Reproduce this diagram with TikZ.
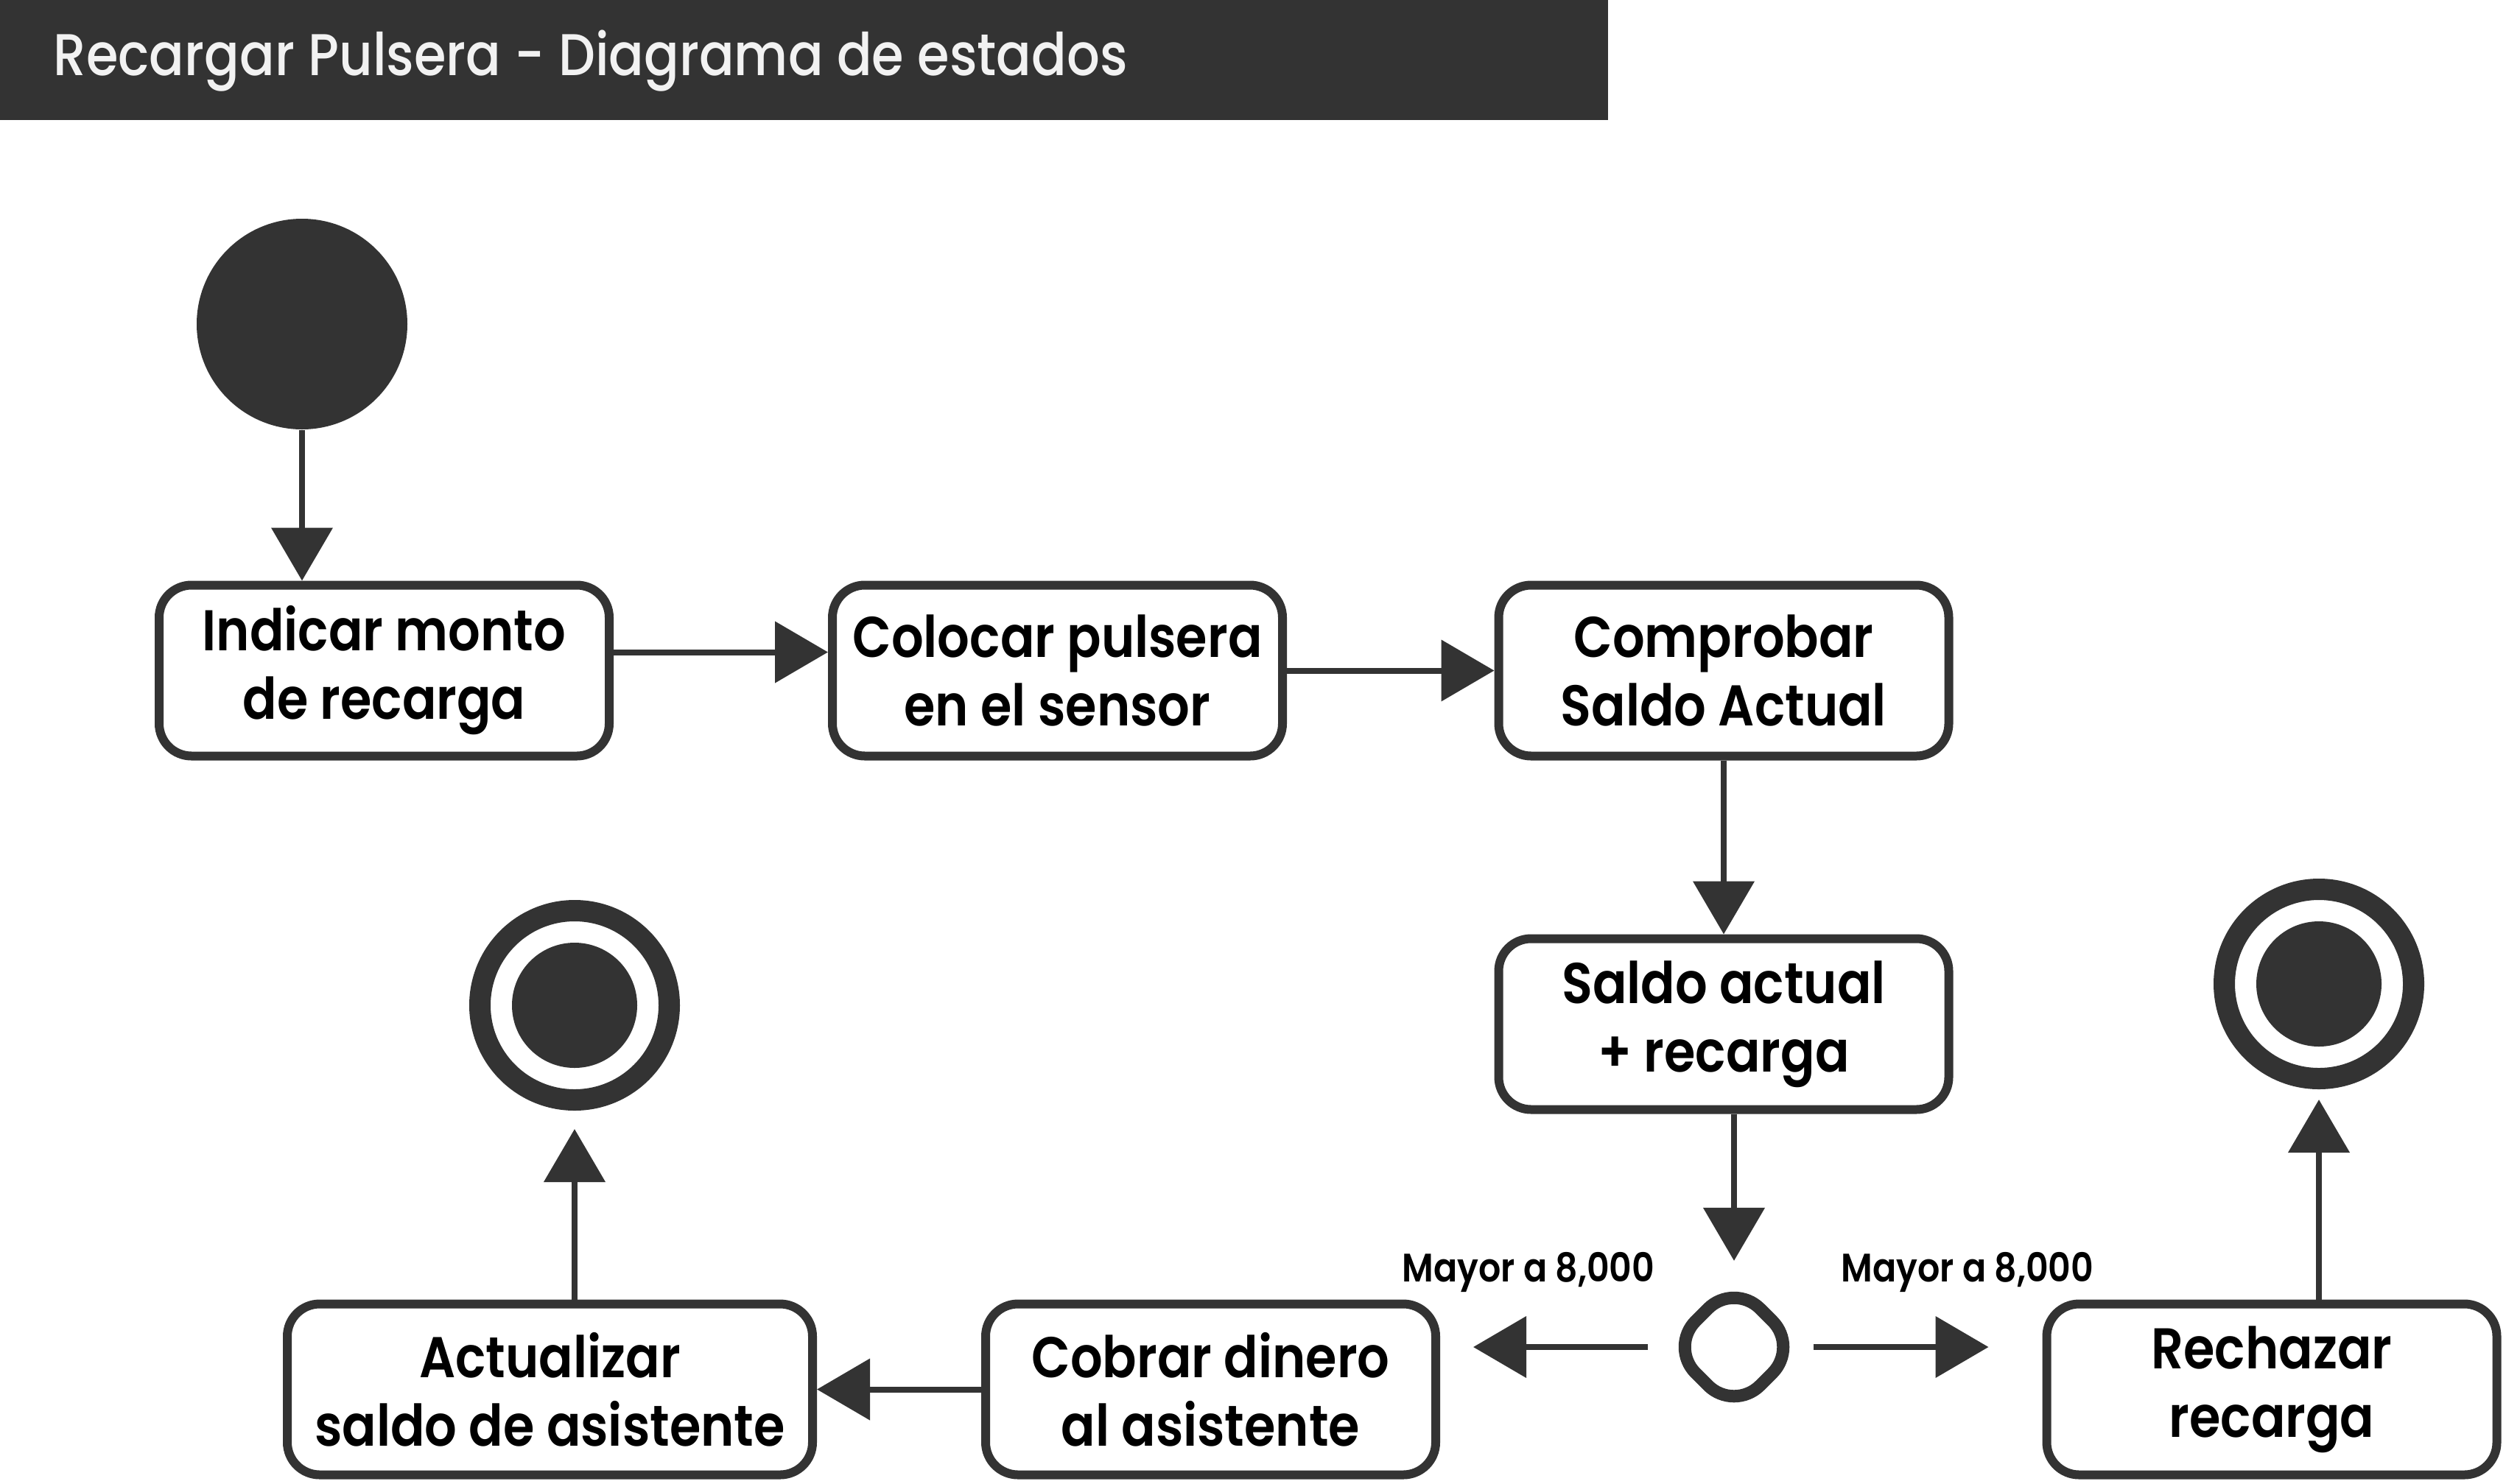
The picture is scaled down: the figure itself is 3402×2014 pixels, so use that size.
\documentclass[tikz,border=0pt]{standalone}
\usepackage{fontspec}
\setmainfont{Poppins}[UprightFont={* SemiBold}, FakeStretch=0.88]
\newfontfamily\titlefont{Poppins}[UprightFont={* Medium}, FakeStretch=0.88]
\usetikzlibrary{arrows.meta,shapes.geometric}
\definecolor{dk}{HTML}{333333}
\definecolor{ttl}{HTML}{F2F2F2}
\tikzset{
  statebox/.style={draw=dk, line width=3pt, rounded corners=11pt, fill=white,
    minimum width=152.75pt, minimum height=58pt, align=center, inner sep=0pt,
    font=\fontsize{19.5}{23.25}\selectfont},
  arr/.style={draw=dk, line width=2pt, -{Triangle[length=18pt,width=20.5pt]}},
  initst/.style={circle, fill=dk, minimum size=71.5pt, inner sep=0pt},
  finalst/.style={circle, draw=dk, line width=7.25pt, minimum size=64.25pt, inner sep=0pt,
    path picture={\fill[dk] (path picture bounding box.center) circle (21.25pt);}},
  decst/.style={diamond, draw=dk, line width=4.25pt, minimum width=45.5pt, minimum height=45.5pt,
    inner sep=0pt, rounded corners=12.5pt, fill=white},
  lbl/.style={font=\fontsize{13.5}{15}\selectfont, inner sep=0pt},
}
\begin{document}
\begin{tikzpicture}[x=0.25pt,y=-0.25pt]
\useasboundingbox (0,0) rectangle (3402,2014);
\fill[dk] (0,0) rectangle (2183,163);
\node[anchor=base west, text=ttl, inner sep=0pt, font=\titlefont\fontsize{20}{23}\selectfont] (title) at (72,102) {Recargar Pulsera - Diagrama de estados};

\node[initst] (init) at (410,440) {};
\node[statebox] (b1) at (521.5,910.5) {Indicar monto\\de recarga};
\node[statebox] (b2) at (1435.5,910.5) {Colocar pulsera\\en el sensor};
\node[statebox] (b3) at (2340,910.5) {Comprobar\\Saldo Actual};
\node[statebox] (b4) at (2340,1390.5) {Saldo actual\\+ recarga};
\node[decst] (dec) at (2354,1829) {};
\node[statebox] (b5) at (1643.5,1886.5) {Cobrar dinero\\al asistente};
\node[statebox, minimum width=178.25pt] (b6) at (746.5,1886.5) {Actualizar\\saldo de asistente};
\node[statebox] (b7) at (3084,1886.5) {Rechazar\\recarga};
\node[finalst] (fin1) at (780,1365) {};
\node[finalst] (fin2) at (3148,1336) {};

\node[lbl, anchor=base] (l1) at (2075,1740) {Mayor a 8,000};
\node[lbl, anchor=base] (l2) at (2671,1740) {Mayor a 8,000};

\draw[arr] (init) -- (init.south |- b1.north);
\draw[arr] ([yshift=6.25pt]b1.east) -- ([yshift=6.25pt]b2.west);
\draw[arr] (b2) -- (b3);
\draw[arr] (b3) -- (b4);
\draw[arr, shorten >=4.4pt] ([xshift=3.5pt]b4.south) -- (dec.north);
\draw[arr, shorten <=4.4pt, shorten >=11.25pt] (dec.west) -- (dec.west -| b5.east);
\draw[arr, shorten <=2.1pt, shorten >=18.25pt] (dec.east) -- (dec.east -| b7.west);
\draw[arr] (b5) -- (b6);
\draw[arr, shorten >=6.25pt] (fin1.south |- b6.north) -- (fin1.south);
\draw[arr, shorten >=3.5pt] (fin2.south |- b7.north) -- (fin2.south);
\end{tikzpicture}
\end{document}
